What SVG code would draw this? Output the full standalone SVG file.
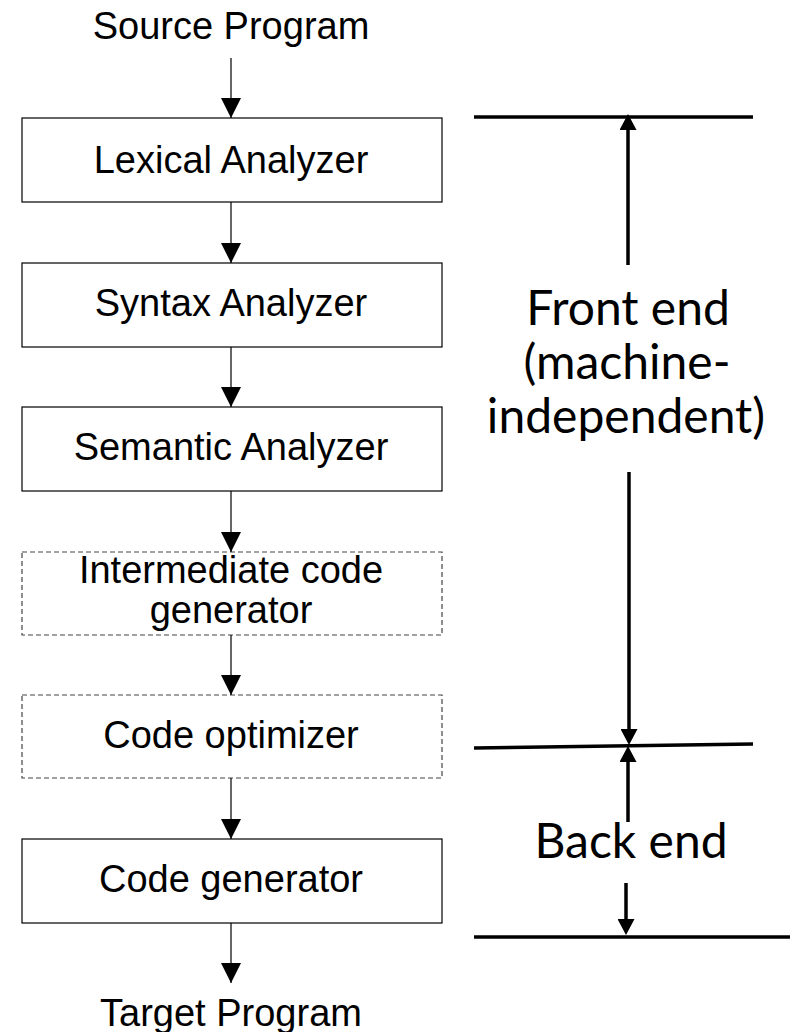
<svg xmlns="http://www.w3.org/2000/svg" width="790" height="1032" viewBox="0 0 790 1032">
  <style>
    .box { fill: #ffffff; stroke: #000000; stroke-width: 1.2; }
    .dash { fill: #ffffff; stroke: #444444; stroke-width: 1.2; stroke-dasharray: 5 3; }
    .lbl { font-family: "Liberation Sans", Arial, sans-serif; font-size: 38px; fill: #000000; text-anchor: middle; }
    .big { font-family: Lato, "Open Sans", sans-serif; font-size: 48px; fill: #000000; text-anchor: middle; }
    .flow { stroke: #000000; stroke-width: 1.2; fill: none; marker-end: url(#head); }
    .rule { stroke: #000000; stroke-width: 3.5; fill: none; }
    .span { stroke: #000000; stroke-width: 3.5; fill: none; marker-end: url(#bighead); }
  </style>
  <defs>
    <marker id="head" markerUnits="userSpaceOnUse" markerWidth="20" markerHeight="20" refX="20" refY="10" orient="auto">
      <path d="M0,0 L20,10 L0,20 Z" fill="#000000"/>
    </marker>
    <marker id="bighead" markerUnits="userSpaceOnUse" markerWidth="16" markerHeight="17" refX="6" refY="8.5" orient="auto">
      <path d="M0,0 L16,8.5 L0,17 Z" fill="#000000"/>
    </marker>
  </defs>

  <rect width="790" height="1032" fill="#ffffff"/>

  <!-- program pipeline -->
  <g id="source">
    <text class="lbl" x="231" y="39">Source Program</text>
  </g>
  <g id="lexical">
    <rect class="box" x="22" y="118" width="420" height="84"/>
    <text class="lbl" x="231" y="173">Lexical Analyzer</text>
  </g>
  <g id="syntax">
    <rect class="box" x="22" y="263" width="420" height="84"/>
    <text class="lbl" x="231" y="316">Syntax Analyzer</text>
  </g>
  <g id="semantic">
    <rect class="box" x="22" y="407" width="420" height="84"/>
    <text class="lbl" x="231" y="460">Semantic Analyzer</text>
  </g>
  <g id="intermediate">
    <rect class="dash" x="22" y="552" width="420" height="83"/>
    <text class="lbl" x="231" y="583">Intermediate code</text>
    <text class="lbl" x="231" y="623">generator</text>
  </g>
  <g id="optimizer">
    <rect class="dash" x="22" y="695" width="420" height="83"/>
    <text class="lbl" x="231" y="748">Code optimizer</text>
  </g>
  <g id="codegen">
    <rect class="box" x="22" y="839" width="420" height="84"/>
    <text class="lbl" x="231" y="892">Code generator</text>
  </g>
  <g id="target">
    <text class="lbl" x="231" y="1026">Target Program</text>
  </g>

  <!-- phase spans -->
  <g id="front-end">
    <text class="big" x="628" y="325">Front end</text>
    <text class="big" x="627" y="379">(machine-</text>
    <text class="big" x="626" y="433">independent)</text>
  </g>
  <g id="back-end">
    <text class="big" x="631" y="858">Back end</text>
  </g>

  <g id="connectors">
    <line class="flow" x1="231" y1="58" x2="231" y2="118"/>
    <line class="flow" x1="231" y1="202" x2="231" y2="263"/>
    <line class="flow" x1="231" y1="347" x2="231" y2="407"/>
    <line class="flow" x1="231" y1="491" x2="231" y2="552"/>
    <line class="flow" x1="231" y1="635" x2="231" y2="695"/>
    <line class="flow" x1="231" y1="778" x2="231" y2="839"/>
    <line class="flow" x1="231" y1="923" x2="231" y2="983"/>

    <line class="rule" x1="474" y1="117" x2="753" y2="117"/>
    <line class="rule" x1="474" y1="748" x2="753" y2="744"/>
    <line class="rule" x1="474" y1="937" x2="790" y2="937"/>

    <line class="span" x1="628" y1="265" x2="628" y2="124"/>
    <line class="span" x1="629" y1="472" x2="629" y2="735"/>
    <line class="span" x1="628" y1="822" x2="628" y2="756"/>
    <line class="span" x1="626" y1="883" x2="626" y2="925"/>
  </g>
</svg>
